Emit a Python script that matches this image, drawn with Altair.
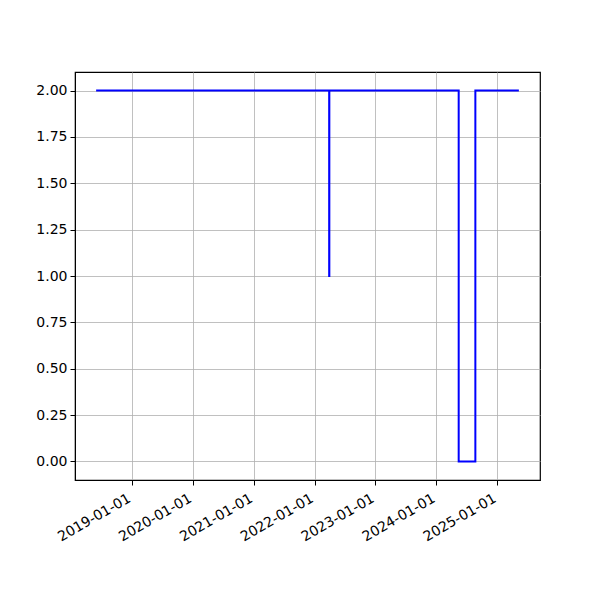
import altair as alt
import pandas as pd

# Step series values
dates = ["2018-06-01", "2022-03-30", "2022-03-31", "2024-05-15", "2024-08-23", "2025-05-11"]
values = [2, 1, 2, 0, 2, 2]
tick_years = [2019, 2020, 2021, 2022, 2023, 2024, 2025]
y_ticks = [0.0, 0.25, 0.5, 0.75, 1.0, 1.25, 1.5, 1.75, 2.0]

df = pd.DataFrame({"date": dates, "value": values})

d = pd.to_datetime(dates)
span = d.max() - d.min()
lo = d.min() - 0.05 * span
hi = d.max() + 0.05 * span


def dt(ts):
    return alt.DateTime(year=ts.year, month=ts.month, date=ts.day,
                        hours=ts.hour, minutes=ts.minute, utc=True)


chart = alt.Chart(df).mark_line(
    interpolate="step-after", color="#0000ff", strokeWidth=2, clip=True
).encode(
    x=alt.X("date:T",
            scale=alt.Scale(type="utc", domain=[dt(lo), dt(hi)], nice=False),
            axis=alt.Axis(values=[alt.DateTime(year=y, month=1, date=1, utc=True) for y in tick_years],
                          labelExpr="utcFormat(datum.value, '%Y-%m-%d')",
                          labelAngle=-30, labelAlign="right", labelOffset=-6, labelPadding=6,
                          labelBaseline="top", title=None)),
    y=alt.Y("value:Q",
            scale=alt.Scale(domain=[-0.1, 2.1], nice=False, zero=False),
            axis=alt.Axis(values=y_ticks, format=".2f", title=None, labelPadding=3)),
).properties(
    width=465, height=408,
    background="white",
    autosize=alt.AutoSizeParams(type="none"),
    padding={"left": 67, "top": 64, "right": 52, "bottom": 112},
).configure_view(
    stroke="black", strokeWidth=1.2
).configure_axis(
    grid=True, gridColor="#b0b0b0", gridWidth=0.8, gridOpacity=1,
    domainColor="black", domainWidth=1, tickColor="black", tickSize=5, tickWidth=1,
    labelFont="DejaVu Sans", labelFontSize=14, labelColor="black",
    labelOverlap=False,
)

chart.save("out.html", embed_options={"renderer": "svg", "actions": False})
